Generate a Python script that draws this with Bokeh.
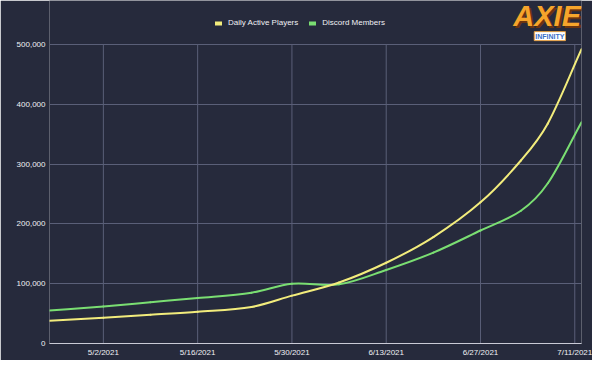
import numpy as np
import pandas as pd
from bokeh.plotting import figure
from bokeh.models import (Range1d, FixedTicker, Legend, LegendItem, Label,
                          NumeralTickFormatter)
from bokeh.embed import file_html
from bokeh.resources import INLINE

# ---- data ----
dates = ["2021-04-24", "2021-05-02", "2021-05-09", "2021-05-16", "2021-05-24",
         "2021-05-30", "2021-06-06", "2021-06-13", "2021-06-20", "2021-06-27",
         "2021-07-03", "2021-07-07", "2021-07-12"]
daily_active_players = [38000, 43000, 48000, 53000, 61000, 80000, 102000,
                        135000, 178000, 236000, 306000, 368000, 492000]
discord_members = [55000, 62000, 69000, 76000, 85000, 100000, 99000,
                   123000, 152000, 189000, 222000, 268000, 370000]
tick_dates = ["2021-05-02", "2021-05-16", "2021-05-30", "2021-06-13",
              "2021-06-27", "2021-07-11"]
tick_labels = ["5/2/2021", "5/16/2021", "5/30/2021", "6/13/2021",
               "6/27/2021", "7/11/2021"]
y_ticks = [0, 100000, 200000, 300000, 400000, 500000]
series_names = ["Daily Active Players", "Discord Members"]

BG = "#262a3c"
YELLOW = "#f2ec7c"
GREEN = "#7ade72"
GRID = "#5a5f78"
TXT = "#f0f0f4"
FONT = "Liberation Sans"
DAY = 86400000


def ms(d):
    return pd.Timestamp(d).value / 1e6


x = np.array([ms(d) for d in dates])
y_max = y_ticks[-1]

p = figure(width=592, height=360, x_axis_type="datetime",
           output_backend="svg", toolbar_location=None,
           background_fill_color=BG, border_fill_color=BG,
           min_border_left=49, min_border_right=11,
           min_border_top=0, min_border_bottom=17, outline_line_color=None)
p.x_range = Range1d(ms("2021-04-24"), ms("2021-07-12"))
# headroom above the top tick holds the legend and logo
p.y_range = Range1d(0, y_max * 343 / 299)


def hermite_bezier(xs, ys):
    xs = np.asarray(xs, float)
    ys = np.asarray(ys, float)
    n = len(xs)
    m = np.zeros(n)
    m[0] = (ys[1] - ys[0]) / (xs[1] - xs[0])
    m[-1] = (ys[-1] - ys[-2]) / (xs[-1] - xs[-2])
    for i in range(1, n - 1):
        m[i] = (ys[i + 1] - ys[i - 1]) / (xs[i + 1] - xs[i - 1])
    dx = xs[1:] - xs[:-1]
    return dict(x0=xs[:-1], y0=ys[:-1], x1=xs[1:], y1=ys[1:],
                cx0=xs[:-1] + dx / 3, cy0=ys[:-1] + m[:-1] * dx / 3,
                cx1=xs[1:] - dx / 3, cy1=ys[1:] - m[1:] * dx / 3)


# vertical grid lines only up to the top tick
tick_ms = [ms(d) for d in tick_dates]
p.segment(x0=tick_ms, y0=[0] * len(tick_ms), x1=tick_ms, y1=[y_max] * len(tick_ms),
          line_color=GRID, line_width=1)

for vals, col in [(discord_members, GREEN), (daily_active_players, YELLOW)]:
    b = hermite_bezier(x, vals)
    p.bezier(line_color=col, line_width=2, line_cap="round", **b)

# legend proxies (kept out of view, below the axis)
r1 = p.line(x=[x[0], x[1]], y=[-50000, -50000], line_color=YELLOW,
            line_width=4, line_cap="round")
r2 = p.line(x=[x[0], x[1]], y=[-50000, -50000], line_color=GREEN,
            line_width=4, line_cap="round")
legend = Legend(items=[LegendItem(label=series_names[0], renderers=[r1]),
                       LegendItem(label=series_names[1], renderers=[r2])],
                orientation="horizontal", location=(166, 316),
                background_fill_alpha=0, border_line_color=None,
                label_text_color=TXT, label_text_font=FONT,
                label_text_font_size="8px", glyph_width=7, glyph_height=8,
                label_standoff=6, spacing=11, padding=0, margin=0)
p.add_layout(legend, "center")

# axes
p.xaxis.ticker = FixedTicker(ticks=tick_ms)
p.xaxis.major_label_overrides = {t: l for t, l in zip(tick_ms, tick_labels)}
p.yaxis.ticker = FixedTicker(ticks=y_ticks)
p.yaxis.formatter = NumeralTickFormatter(format="0,0")
for ax in (p.xaxis, p.yaxis):
    ax.major_label_text_color = TXT
    ax.major_label_text_font = FONT
    ax.major_label_text_font_size = "8px"
    ax.major_tick_line_color = None
    ax.minor_tick_line_color = None
    ax.major_tick_out = 0
    ax.major_tick_in = 0
p.xaxis.axis_line_color = "#c9cad6"
p.xaxis.major_label_standoff = 4
p.yaxis.axis_line_color = None
p.yaxis.major_label_standoff = 4

p.xgrid.grid_line_color = None
p.ygrid.grid_line_color = GRID

# logo (decorative)
lx = ms("2021-07-06") + 0.9 * DAY
for ox, oy, col in [(0.3 * DAY, -3000, "#6b3410"), (0, 0, "#f6a52c")]:
    p.add_layout(Label(x=lx + ox, y=547000 + oy, text="AXIE", text_color=col,
                       text_font=FONT, text_font_style="bold italic",
                       text_font_size="29px", text_align="center",
                       text_baseline="middle"))
p.add_layout(Label(x=lx + 0.4 * DAY, y=514000, text="INFINITY", text_color="#3b6fc9",
                   text_font=FONT, text_font_style="bold", text_font_size="7px",
                   text_align="center", text_baseline="middle",
                   background_fill_color="#ffffff", padding=1,
                   border_line_color="#e8a040"))

open("out.html", "w").write(file_html(p, INLINE))
